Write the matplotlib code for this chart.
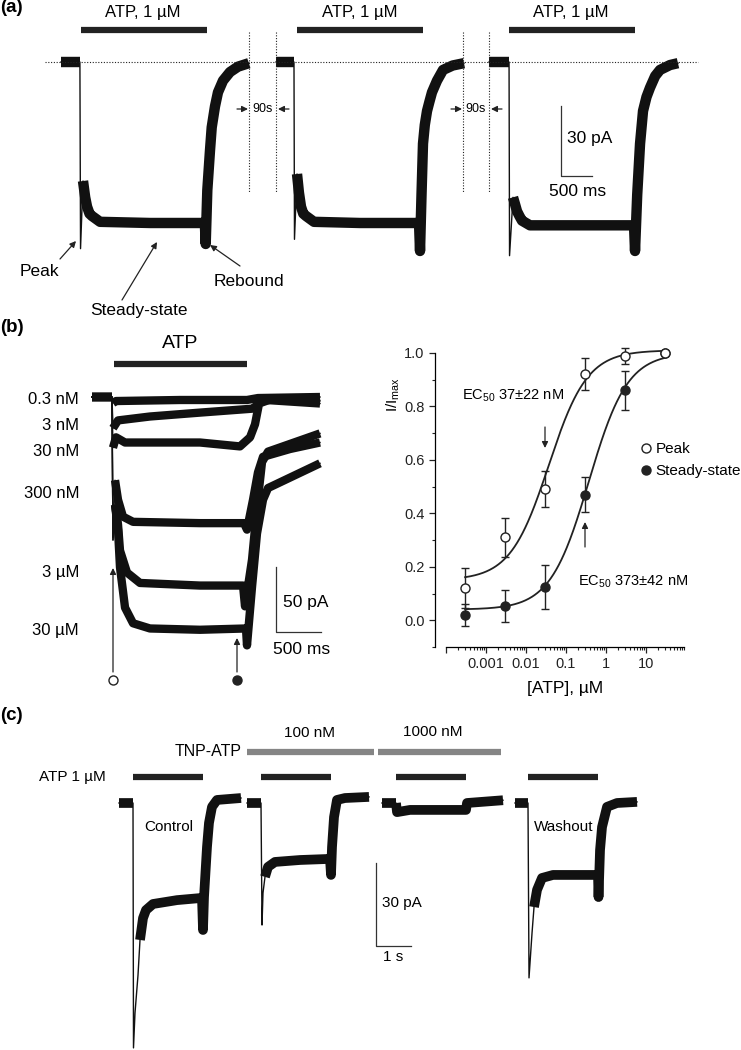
import matplotlib.pyplot as plt
import numpy as np
from matplotlib.lines import Line2D
from matplotlib.ticker import FixedLocator, NullFormatter

plt.rcParams['font.family'] = ['Liberation Sans', 'DejaVu Sans']
plt.rcParams['mathtext.fontset'] = 'custom'
plt.rcParams['mathtext.rm'] = 'Liberation Sans'
plt.rcParams['mathtext.it'] = 'Liberation Sans:italic'

W, H = 741, 1050
TRACE = '#111111'

# ---------------- data ----------------
# (a) three 1 uM ATP applications, 90 s apart (time ms, current pA)
a1_t = [0, 305, 315, 355, 390, 420, 460, 500, 630, 1440, 2320, 2334, 2360,
        2403, 2431, 2484, 2532, 2613, 2726, 2855, 3030]
a1_i = [0, 0, -80, -51, -58, -62, -65, -66, -68.5, -69, -69, -78, -55,
        -38, -28, -19, -13, -8, -4.3, -2, -0.5]
a2_t = [0, 290, 298, 339, 370, 403, 440, 484, 613, 1355, 2307, 2323, 2347,
        2371, 2400, 2436, 2475, 2516, 2597, 2694, 2850, 3032]
a2_i = [0, 0, -76, -48, -56, -62, -65, -66, -68.5, -69, -69, -81, -57,
        -35, -27, -21, -17, -13, -8, -3.4, -1.5, -0.5]
a3_t = [0, 323, 331, 387, 420, 452, 490, 532, 661, 1468, 2339, 2355, 2390,
        2436, 2484, 2540, 2597, 2680, 2758, 2919, 3048]
a3_i = [0, 0, -83, -58, -61, -64, -66, -68, -70, -70, -70, -81, -57,
        -35, -21, -15, -11, -6, -3.4, -1.3, -0.5]

# (b) superimposed responses to increasing ATP
b1_t = [0, 222, 233, 267, 978, 1722, 1844, 2533]
b1_i = [0, 0, -4.6, -3.1, -2.3, -2.3, -0.8, 0]
b2_t = [0, 222, 233, 289, 644, 1200, 1778, 1822, 1867, 2533]
b2_i = [0, 0, -24, -18, -15, -12, -9, -7, -2, -5]
b3_t = [0, 222, 233, 267, 367, 1200, 1644, 1756, 1811, 1856, 1978, 2533]
b3_i = [0, 0, -39, -31, -35, -35, -38, -31, -21, -5, -2, -3]
b4_t = [0, 222, 233, 256, 289, 344, 456, 1200, 1689, 1722, 1789, 1844, 1900, 2200, 2533]
b4_i = [0, 0, -108, -64, -79, -92, -96, -97, -97, -102, -79, -58, -46, -40, -35]
b5_t = [0, 222, 233, 256, 289, 311, 389, 533, 1200, 1678, 1700, 1778, 1833, 1889, 1956, 2533]
b5_i = [0, 0, -110, -83, -98, -118, -135, -143, -145, -145, -161, -125, -85, -50, -42, -28]
b6_t = [0, 222, 233, 256, 289, 311, 367, 456, 644, 1200, 1711, 1722, 1778, 1833, 1900, 1956, 2533]
b6_i = [0, 0, -110, -83, -102, -131, -162, -174, -178, -179, -178, -191, -146, -105, -79, -70, -51]
b_labels = ['0.3 nM', '3 nM', '30 nM', '300 nM', '3 \u00b5M', '30 \u00b5M']

# (b) concentration-response
conc = [0.0003, 0.003, 0.03, 0.3, 3, 30]
peak = [0.12, 0.31, 0.49, 0.92, 0.99, 1.0]
peak_err = [0.075, 0.072, 0.068, 0.06, 0.03, 0]
steady = [0.02, 0.055, 0.125, 0.47, 0.86, 1.0]
steady_err = [0.04, 0.06, 0.083, 0.065, 0.072, 0]
peak_fit = (0.15, 1.01, 0.037, 0.9)      # bottom, top, EC50 (uM), Hill slope
steady_fit = (0.04, 1.0, 0.373, 0.9)

# (c) TNP-ATP block
c1_t = [0, 400, 414, 457, 543, 600, 686, 771, 971, 1657, 2371, 2400, 2429,
        2514, 2571, 2657, 2800, 3486]
c1_i = [0, 0, -88.5, -75.9, -62.2, -49.5, -41.6, -38.7, -36.5, -35.1, -34.3,
        -45.9, -34, -15.9, -7.2, -1.4, 1.1, 1.8]
c2_t = [0, 400, 429, 457, 514, 600, 800, 1514, 2371, 2400, 2429, 2486, 2571, 2800, 3486]
c2_i = [0, 0, -44.1, -32.5, -26.7, -23.1, -21.3, -20.6, -20.2, -26, -15.9, -5.1, 1.1, 1.8, 2.2]
c3_t = [0, 400, 429, 800, 1657, 2400, 2429, 3457]
c3_i = [0, 0, -3.3, -2.5, -2.5, -2.5, 0, 1]
c4_t = [0, 371, 400, 486, 543, 629, 771, 1086, 2057, 2371, 2386, 2429, 2486,
        2629, 2914, 3486]
c4_i = [0, 0, -63.2, -47, -37.6, -31.4, -27.1, -26, -26, -26, -34, -17, -8.7,
        -1.4, 0, 0.4]

fig = plt.figure(figsize=(W / 100, H / 100), dpi=100)


def trace_axes(x0, y0, ms_px, pa_px):
    ax = fig.add_axes([0, 0, 1, 1])
    ax.set_xlim(-x0 * ms_px, (W - x0) * ms_px)
    ax.set_ylim(-(H - y0) * pa_px, y0 * pa_px)
    ax.set_axis_off()
    return ax


def draw_trace(ax, t, i, offset, lw, k=3):
    # thin line for the fast spike, wide band for the noisy parts
    t = np.asarray(t, float) + offset
    i = np.asarray(i, float)
    ax.plot(t, i, color=TRACE, lw=1.0)
    for sl in (slice(0, 2), slice(k, None)):
        ax.plot(t[sl], i[sl], color=TRACE, lw=lw, solid_capstyle='butt',
                solid_joinstyle='round')


def scale_bar(ax, t0, i0, dt, di):
    ax.plot([t0, t0, t0 + dt], [i0 + di, i0, i0], color='#333333', lw=0.9)


# canvas for labels and arrows (pixel coordinates)
cv = fig.add_axes([0, 0, 1, 1], zorder=5)
cv.set_xlim(0, W)
cv.set_ylim(H, 0)
cv.set_axis_off()
arrow = dict(arrowstyle='-|>', color='#222222', lw=0.9, mutation_scale=9,
             shrinkA=0, shrinkB=0)

# ---------------- panel (a) ----------------
ax_a = trace_axes(61, 62, 16.13, 0.4286)
a_offsets = [0, 3468, 6904]
for (t, i), off in zip([(a1_t, a1_i), (a2_t, a2_i), (a3_t, a3_i)], a_offsets):
    draw_trace(ax_a, t, i, off, 7.5)
for off, on in zip(a_offsets, [320, 340, 325]):
    ax_a.plot([off + on, off + on + 2030], [13.7, 13.7], color='#222222',
              lw=4.5, solid_capstyle='butt')
ax_a.plot([-258, 10275], [0, 0], color='#222222', lw=0.8, ls=(0, (1, 1.5)))
scale_bar(ax_a, 8065, -48.9, 500, 30)

cv.text(0, 8, '(a)', fontsize=13.5, fontweight='bold', va='center')
for x in [143, 360, 571]:
    cv.text(x, 12, 'ATP, 1 \u00b5M', fontsize=12, ha='center', va='center')
for x in [249, 276, 463, 489]:
    cv.plot([x, x], [32, 192], color='#222222', lw=0.8, ls=(0, (1, 1.5)))
for xl, xr in [(249, 276), (463, 489)]:
    cv.annotate('', xy=(xl - 1, 109), xytext=(xl - 12, 109), arrowprops=arrow)
    cv.annotate('', xy=(xr + 2, 109), xytext=(xr + 13, 109), arrowprops=arrow)
    cv.text((xl + xr) / 2, 109, '90s', fontsize=9, ha='center', va='center')
cv.text(567, 139, '30 pA', fontsize=12.5, va='center')
cv.text(578, 192, '500 ms', fontsize=12.5, ha='center', va='center')
cv.text(39, 272, 'Peak', fontsize=12.5, ha='center', va='center')
cv.annotate('', xy=(76, 241), xytext=(60, 259), arrowprops=arrow)
cv.text(139, 310, 'Steady-state', fontsize=12.5, ha='center', va='center')
cv.annotate('', xy=(157, 242), xytext=(122, 300), arrowprops=arrow)
cv.text(249, 282, 'Rebound', fontsize=12.5, ha='center', va='center')
cv.annotate('', xy=(210, 245), xytext=(240, 266), arrowprops=arrow)

# ---------------- panel (b) traces ----------------
ax_b = trace_axes(92, 397, 11.11, 0.769)
for t, i, k in [(b1_t, b1_i, 2), (b2_t, b2_i, 2), (b3_t, b3_i, 2),
                (b4_t, b4_i, 3), (b5_t, b5_i, 3), (b6_t, b6_i, 3)]:
    draw_trace(ax_b, t, i, 0, 6, k)
ax_b.plot([244, 1722], [25.4, 25.4], color='#222222', lw=4.5,
          solid_capstyle='butt')
scale_bar(ax_b, 2044, -180.7, 500, 50)

cv.text(0, 328, '(b)', fontsize=13.5, fontweight='bold', va='center')
cv.text(180, 343, 'ATP', fontsize=14, ha='center', va='center')
for lab, y in zip(b_labels, [400, 425, 452, 493, 573, 630]):
    cv.text(79, y, lab, fontsize=12, ha='right', va='center')
cv.annotate('', xy=(113, 568), xytext=(113, 672), arrowprops=arrow)
cv.annotate('', xy=(237, 638), xytext=(237, 672), arrowprops=arrow)
cv.plot([113], [680], 'o', ms=6.5, mfc='white', mec='#222222', mew=1)
cv.plot([237], [680], 'o', ms=6.5, mfc='#222222', mec='#222222', mew=1)
cv.text(283, 603, '50 pA', fontsize=12.5, va='center')
cv.text(302, 650, '500 ms', fontsize=12.5, ha='center', va='center')

# ---------------- panel (b) concentration-response ----------------
ax_d = fig.add_axes([446 / W, 1 - 647 / H, 240 / W, 307.4 / H])
ax_d.set_xscale('log')
ax_d.set_xlim(1e-4, 1e2)
ax_d.set_ylim(-0.1, 1.05)
xs = np.logspace(np.log10(conc[0]), np.log10(conc[-1]), 300)
for bottom, top, ec50, n in [peak_fit, steady_fit]:
    ax_d.plot(xs, bottom + (top - bottom) / (1 + (ec50 / xs) ** n),
              color='#222222', lw=1.3)
ax_d.errorbar(conc, steady, yerr=steady_err, fmt='o', ms=6.5, mfc='#222222',
              mec='#222222', ecolor='#222222', elinewidth=1, capsize=3,
              capthick=1)
ax_d.errorbar(conc, peak, yerr=peak_err, fmt='o', ms=6.5, mfc='white',
              mec='#222222', mew=1, ecolor='#222222', elinewidth=1, capsize=3,
              capthick=1)
for s in ['top', 'right']:
    ax_d.spines[s].set_visible(False)
ax_d.spines['left'].set_position(('outward', 8))
ax_d.spines['left'].set_bounds(-0.1, 1.0)
ax_d.spines['bottom'].set_bounds(1e-4, 90)
for s in ['left', 'bottom']:
    ax_d.spines[s].set_linewidth(0.9)
ax_d.set_xticks([1e-4, 1e-3, 1e-2, 1e-1, 1, 10])
ax_d.set_xticklabels(['', '0.001', '0.01', '0.1', '1', '10'])
minor_x = [m * 10.0 ** e for e in range(-4, 2) for m in range(2, 10)]
ax_d.xaxis.set_minor_locator(FixedLocator(minor_x))
ax_d.xaxis.set_minor_formatter(NullFormatter())
ax_d.set_yticks([0, 0.2, 0.4, 0.6, 0.8, 1.0])
ax_d.set_yticklabels(['0.0', '0.2', '0.4', '0.6', '0.8', '1.0'])
ax_d.yaxis.set_minor_locator(FixedLocator([-0.1, 0.1, 0.3, 0.5, 0.7, 0.9]))
ax_d.tick_params(which='major', direction='out', length=4.5, width=0.9,
                 labelsize=10.5, pad=3, colors='#222222')
ax_d.tick_params(which='minor', direction='out', length=2.5, width=0.8,
                 colors='#222222')
handles = [Line2D([], [], marker='o', ls='', ms=6.5, mfc='white', mec='#222222'),
           Line2D([], [], marker='o', ls='', ms=6.5, mfc='#222222', mec='#222222')]
ax_d.legend(handles, ['Peak', 'Steady-state'], loc='center left',
            bbox_to_anchor=(0.81, 0.608), frameon=False, fontsize=11,
            handlelength=0.7, handletextpad=0.3, labelspacing=0.5,
            borderpad=0, borderaxespad=0)

cv.text(393, 395, 'I/I$_{\\mathrm{max}}$', fontsize=11, rotation=90,
        ha='center', va='center')
cv.text(565, 688, '[ATP], \u00b5M', fontsize=12.5, ha='center', va='center')
cv.text(462, 396, 'EC$_{\\mathrm{50}}$ 37\u00b122 nM', fontsize=10.5, va='center')
cv.text(578, 582, 'EC$_{\\mathrm{50}}$ 373\u00b142 nM', fontsize=10.5, va='center')
cv.annotate('', xy=(545, 448), xytext=(545, 427), arrowprops=arrow)
cv.annotate('', xy=(585, 522), xytext=(585, 547), arrowprops=arrow)

# ---------------- panel (c) ----------------
ax_c = trace_axes(119, 803, 28.57, 0.3614)
c_offsets = [0, 3657, 7514, 11314]
for (t, i, k), off in zip([(c1_t, c1_i, 5), (c2_t, c2_i, 4), (c3_t, c3_i, 1),
                           (c4_t, c4_i, 4)], c_offsets):
    draw_trace(ax_c, t, i, off, 7, k)
for off, on in zip(c_offsets, [400, 400, 400, 371]):
    ax_c.plot([off + on, off + on + 2000], [9.4, 9.4], color='#222222',
              lw=4.5, solid_capstyle='butt')
for t0, t1 in [(3657, 7286), (7400, 10914)]:
    ax_c.plot([t0, t1], [18.4, 18.4], color='#858585', lw=4.5,
              solid_capstyle='butt')
scale_bar(ax_c, 7343, -51.7, 1000, 30)

cv.text(0, 715, '(c)', fontsize=13.5, fontweight='bold', va='center')
cv.text(242, 752, 'TNP-ATP', fontsize=11.5, ha='right', va='center')
cv.text(309, 733, '100 nM', fontsize=11, ha='center', va='center')
cv.text(433, 732, '1000 nM', fontsize=11, ha='center', va='center')
cv.text(72, 777, 'ATP 1 \u00b5M', fontsize=11, ha='center', va='center')
cv.text(144, 827, 'Control', fontsize=11, va='center')
cv.text(534, 827, 'Washout', fontsize=11, va='center')
cv.text(382, 903, '30 pA', fontsize=11, va='center')
cv.text(393, 957, '1 s', fontsize=11, ha='center', va='center')

fig.savefig('out.png', dpi=100)
